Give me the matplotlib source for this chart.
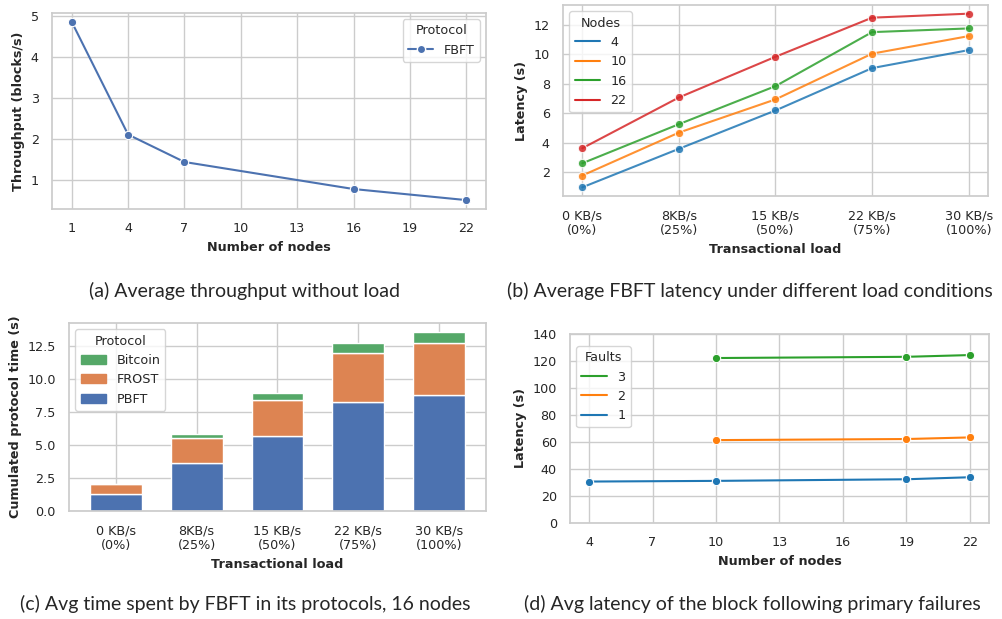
import matplotlib
matplotlib.use("Agg")
import matplotlib.pyplot as plt
import seaborn as sns
from matplotlib.lines import Line2D
from matplotlib.patches import Patch

sns.set_theme(style="whitegrid")
plt.rcParams["font.family"] = ["DejaVu Sans"]

# (a) throughput without load
nodes_a = [1, 4, 7, 16, 22]
throughput = [4.85, 2.10, 1.43, 0.77, 0.50]

# (b) latency under load
loads = ["0 KB/s\n(0%)", "8KB/s\n(25%)", "15 KB/s\n(50%)", "22 KB/s\n(75%)", "30 KB/s\n(100%)"]
lat_by_nodes = {
    "4": [0.98, 3.59, 6.19, 9.06, 10.28],
    "10": [1.78, 4.69, 6.94, 10.04, 11.23],
    "16": [2.61, 5.26, 7.84, 11.50, 11.75],
    "22": [3.63, 7.07, 9.83, 12.48, 12.75],
}

# (c) time per protocol, 16 nodes
pbft = [1.32, 3.67, 5.70, 8.29, 8.77]
frost = [0.76, 1.86, 2.72, 3.70, 3.93]
bitcoin = [0.00, 0.30, 0.50, 0.76, 0.86]

# (d) latency after primary failures
faults = {
    "1": ([4, 10, 19, 22], [30.7, 31.2, 32.4, 33.9]),
    "2": ([10, 19, 22], [61.4, 62.2, 63.4]),
    "3": ([10, 19, 22], [122.2, 123.1, 124.4]),
}

deep = sns.color_palette("deep")
tab = sns.color_palette("tab10")

fig = plt.figure(figsize=(10.03, 6.19), dpi=100)
W, H = 1003, 619

def box(l, t, r, b):
    return [l / W, 1 - b / H, (r - l) / W, (b - t) / H]

fs = 9.2
lab_fs = 9.2
lw = 1.5
ms = 6
leg = dict(fontsize=fs, title_fontsize=fs)

# ---- (a)
ax = fig.add_axes(box(52, 13, 486, 209))
ax.plot(nodes_a, throughput, color=deep[0], marker="o", markersize=ms,
        markeredgecolor="white", markeredgewidth=0.8, linewidth=lw)
ax.set_xticks(range(1, 23, 3))
ax.set_xlabel("Number of nodes", fontweight="bold", fontsize=lab_fs)
ax.set_ylabel("Throughput (blocks/s)", fontweight="bold", fontsize=lab_fs)
ax.tick_params(labelsize=fs)
ax.legend(handles=[Line2D([], [], color=deep[0], marker="o", markeredgecolor="white",
                          markersize=ms, linewidth=lw, label="FBFT")],
          title="Protocol", loc="upper right", **leg)

# ---- (b)
ax = fig.add_axes(box(563, 5, 988, 196))
xs = range(len(loads))
handles = []
for i, (k, v) in enumerate(lat_by_nodes.items()):
    ax.plot(xs, v, color=tab[i], marker="o", markersize=ms, markeredgecolor="white",
            markeredgewidth=0.8, linewidth=lw, alpha=0.85)
    handles.append(Line2D([], [], color=tab[i], linewidth=lw, label=k))
ax.set_xticks(list(xs))
ax.set_xticklabels(loads)
ax.set_xlabel("Transactional load", fontweight="bold", fontsize=lab_fs)
ax.set_ylabel("Latency (s)", fontweight="bold", fontsize=lab_fs)
ax.set_yticks([2, 4, 6, 8, 10, 12])
ax.tick_params(labelsize=fs)
ax.legend(handles=handles, title="Nodes", loc="upper left", **leg)

# ---- (c)
ax = fig.add_axes(box(69, 323, 486, 511))
xs = range(len(loads))
bw = 0.64
ax.bar(xs, pbft, width=bw, color=deep[0], edgecolor="white", linewidth=1)
ax.bar(xs, frost, width=bw, bottom=pbft, color=deep[1], edgecolor="white", linewidth=1)
top2 = [p + f for p, f in zip(pbft, frost)]
ax.bar(xs, bitcoin, width=bw, bottom=top2, color=deep[2], edgecolor="white", linewidth=1)
ax.set_axisbelow(True)
ax.set_xlim(-0.58, 4.58)
ax.set_ylim(0, 14.25)
ax.set_xticks(list(xs))
ax.set_xticklabels(loads)
ax.set_yticks([0, 2.5, 5, 7.5, 10, 12.5])
ax.set_xlabel("Transactional load", fontweight="bold", fontsize=lab_fs)
ax.set_ylabel("Cumulated protocol time (s)", fontweight="bold", fontsize=lab_fs)
ax.tick_params(labelsize=fs)
ax.legend(handles=[Patch(color=deep[2], label="Bitcoin"),
                   Patch(color=deep[1], label="FROST"),
                   Patch(color=deep[0], label="PBFT")],
          title="Protocol", loc="upper left", **leg)

# ---- (d)
ax = fig.add_axes(box(570, 334, 989, 523))
handles = []
for i, (k, (x, y)) in enumerate(faults.items()):
    ax.plot(x, y, color=tab[i], marker="o", markersize=ms, markeredgecolor="white",
            markeredgewidth=0.8, linewidth=lw)
    handles.append(Line2D([], [], color=tab[i], linewidth=lw, label=k))
ax.set_xlim(3.1, 22.9)
ax.set_ylim(0, 140)
ax.set_yticks(range(0, 141, 20))
ax.set_xticks(range(4, 23, 3))
ax.set_xlabel("Number of nodes", fontweight="bold", fontsize=lab_fs)
ax.set_ylabel("Latency (s)", fontweight="bold", fontsize=lab_fs)
ax.tick_params(labelsize=fs)
ax.legend(handles=handles[::-1], title="Faults", loc="upper left",
          bbox_to_anchor=(0.0, 0.97), **leg)

# captions
cap = dict(fontsize=14, family=["Lato", "DejaVu Sans"], ha="center", va="center")
fig.text(245 / W, 1 - 291 / H, "(a) Average throughput without load", **cap)
fig.text(750 / W, 1 - 291 / H, "(b) Average FBFT latency under different load conditions", **cap)
fig.text(245 / W, 1 - 604 / H, "(c) Avg time spent by FBFT in its protocols, 16 nodes", **cap)
fig.text(752 / W, 1 - 604 / H, "(d) Avg latency of the block following primary failures", **cap)

fig.savefig("out.png", dpi=100)
